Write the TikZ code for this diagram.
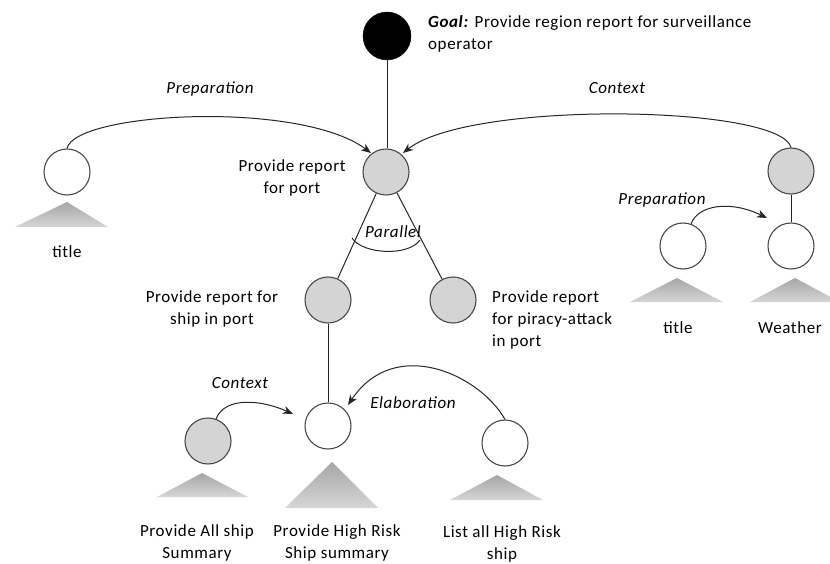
\documentclass[tikz,border=0pt]{standalone}
\usepackage{fontspec}
\setmainfont[LetterSpace=3.5]{Carlito}
\usetikzlibrary{arrows.meta}
\definecolor{goalfill}{HTML}{000000}
\definecolor{taskgray}{HTML}{D4D4D4}
\definecolor{rimgray}{HTML}{4A4A4A}
\definecolor{triTop}{HTML}{A6A6A6}
\definecolor{triBottom}{HTML}{D6D6D6}
\tikzset{
  task/.style={circle, draw=rimgray, line width=1.1pt, minimum size=46pt, inner sep=0pt},
  greytask/.style={task, fill=taskgray},
  whitetask/.style={task, fill=white},
  goalnode/.style={circle, fill=goalfill, draw=goalfill, minimum size=48pt, inner sep=0pt},
  link/.style={draw=black!85, line width=1pt},
  rel/.style={draw=black!85, line width=1pt, -{Stealth[length=10pt,width=8pt,inset=3pt]}},
  lbl/.style={font=\fontsize{17}{22}\selectfont, align=center, inner sep=0pt},
  rellbl/.style={lbl, font=\fontsize{17}{22}\selectfont\itshape},
  subtree/.style={top color=triTop, bottom color=triBottom}
}
\begin{document}
\begin{tikzpicture}[x=1pt,y=-1pt]
\useasboundingbox (0,0) rectangle (830,564);

% task nodes
\node[goalnode]  (goal)    at (387,36)  {};
\node[greytask]  (port)    at (386,172) {};
\node[whitetask] (ltitle)  at (67,172)  {};
\node[greytask]  (ctx)     at (791,171) {};
\node[whitetask] (weather) at (791,246) {};
\node[whitetask] (rtitle)  at (683,246) {};
\node[greytask]  (ship)    at (328,300) {};
\node[greytask]  (piracy)  at (453,300) {};
\node[whitetask] (high)    at (328,426) {};
\node[greytask]  (allship) at (208,441) {};
\node[whitetask] (listall) at (505,443) {};

% collapsed subtrees
\shade[subtree] (67,202)  -- (108,227) -- (15,227)  -- cycle;
\shade[subtree] (677,278) -- (723,302) -- (630,302) -- cycle;
\shade[subtree] (795,278) -- (840,302) -- (750,302) -- cycle;
\shade[subtree] (202,473) -- (248,497) -- (157,497) -- cycle;
\shade[subtree] (332,462) -- (378,508) -- (285,508) -- cycle;
\shade[subtree] (497,475) -- (543,500) -- (450,500) -- cycle;

% decomposition links
\draw[link] (goal.south) -- (goal.south |- port.north);
\draw[link] (port) -- (ship);
\draw[link] (port) -- (piracy);
\draw[link] (ship) -- (high);
\draw[link] (ctx) -- (weather);

% parallel arc
\draw[link] (352,238) .. controls (362,254) and (408,257) .. (420,240);

% rhetorical relations
\coordinate (portL) at (371,153);
\coordinate (portR) at (403,153);
\draw[rel] (ltitle.north) .. controls (75,112) and (300,100) .. (portL);
\draw[rel] (ctx.north) .. controls (780,105) and (470,100) .. (portR);
\coordinate (wtip) at (767,218);
\draw[rel] (rtitle.70) .. controls (698,205) and (730,200) .. (wtip);
\coordinate (htipL) at (293,414);
\draw[rel] (allship.70) .. controls (225,396) and (262,400) .. (htipL);
\coordinate (htipR) at (348,405);
\draw[rel] (listall.north) .. controls (480,375) and (395,335) .. (htipR);

% texts
\node[lbl, anchor=west, align=left] (goaltxt) at (428,34)
  {\textbf{\textit{Goal:}} Provide region report for surveillance\\operator};
\node[rellbl] (prep1) at (210,89) {Preparation};
\node[rellbl] (ctx1)  at (617,88) {Context};
\node[lbl] (porttxt) at (292,178) {Provide report\\for port};
\node[lbl] (ltitletxt) at (67,252) {title};
\node[rellbl] (par) at (393,232) {Parallel};
\node[rellbl] (prep2) at (662,200) {Preparation};
\node[lbl] (rtitletxt) at (678,328) {title};
\node[lbl] (weathertxt) at (790,328) {Weather};
\node[lbl] (shiptxt) at (212,309) {Provide report for\\ship in port};
\node[lbl, anchor=west, align=left] (piracytxt) at (492,320)
  {Provide report\\for piracy-attack\\in port};
\node[rellbl] (ctx2) at (240,383) {Context};
\node[rellbl] (elab) at (413,403) {Elaboration};
\node[lbl] (alltxt) at (197,543) {Provide All ship\\Summary};
\node[lbl] (hightxt) at (337,543) {Provide High Risk\\Ship summary};
\node[lbl] (listtxt) at (502,544) {List all High Risk\\ship};
\end{tikzpicture}
\end{document}
